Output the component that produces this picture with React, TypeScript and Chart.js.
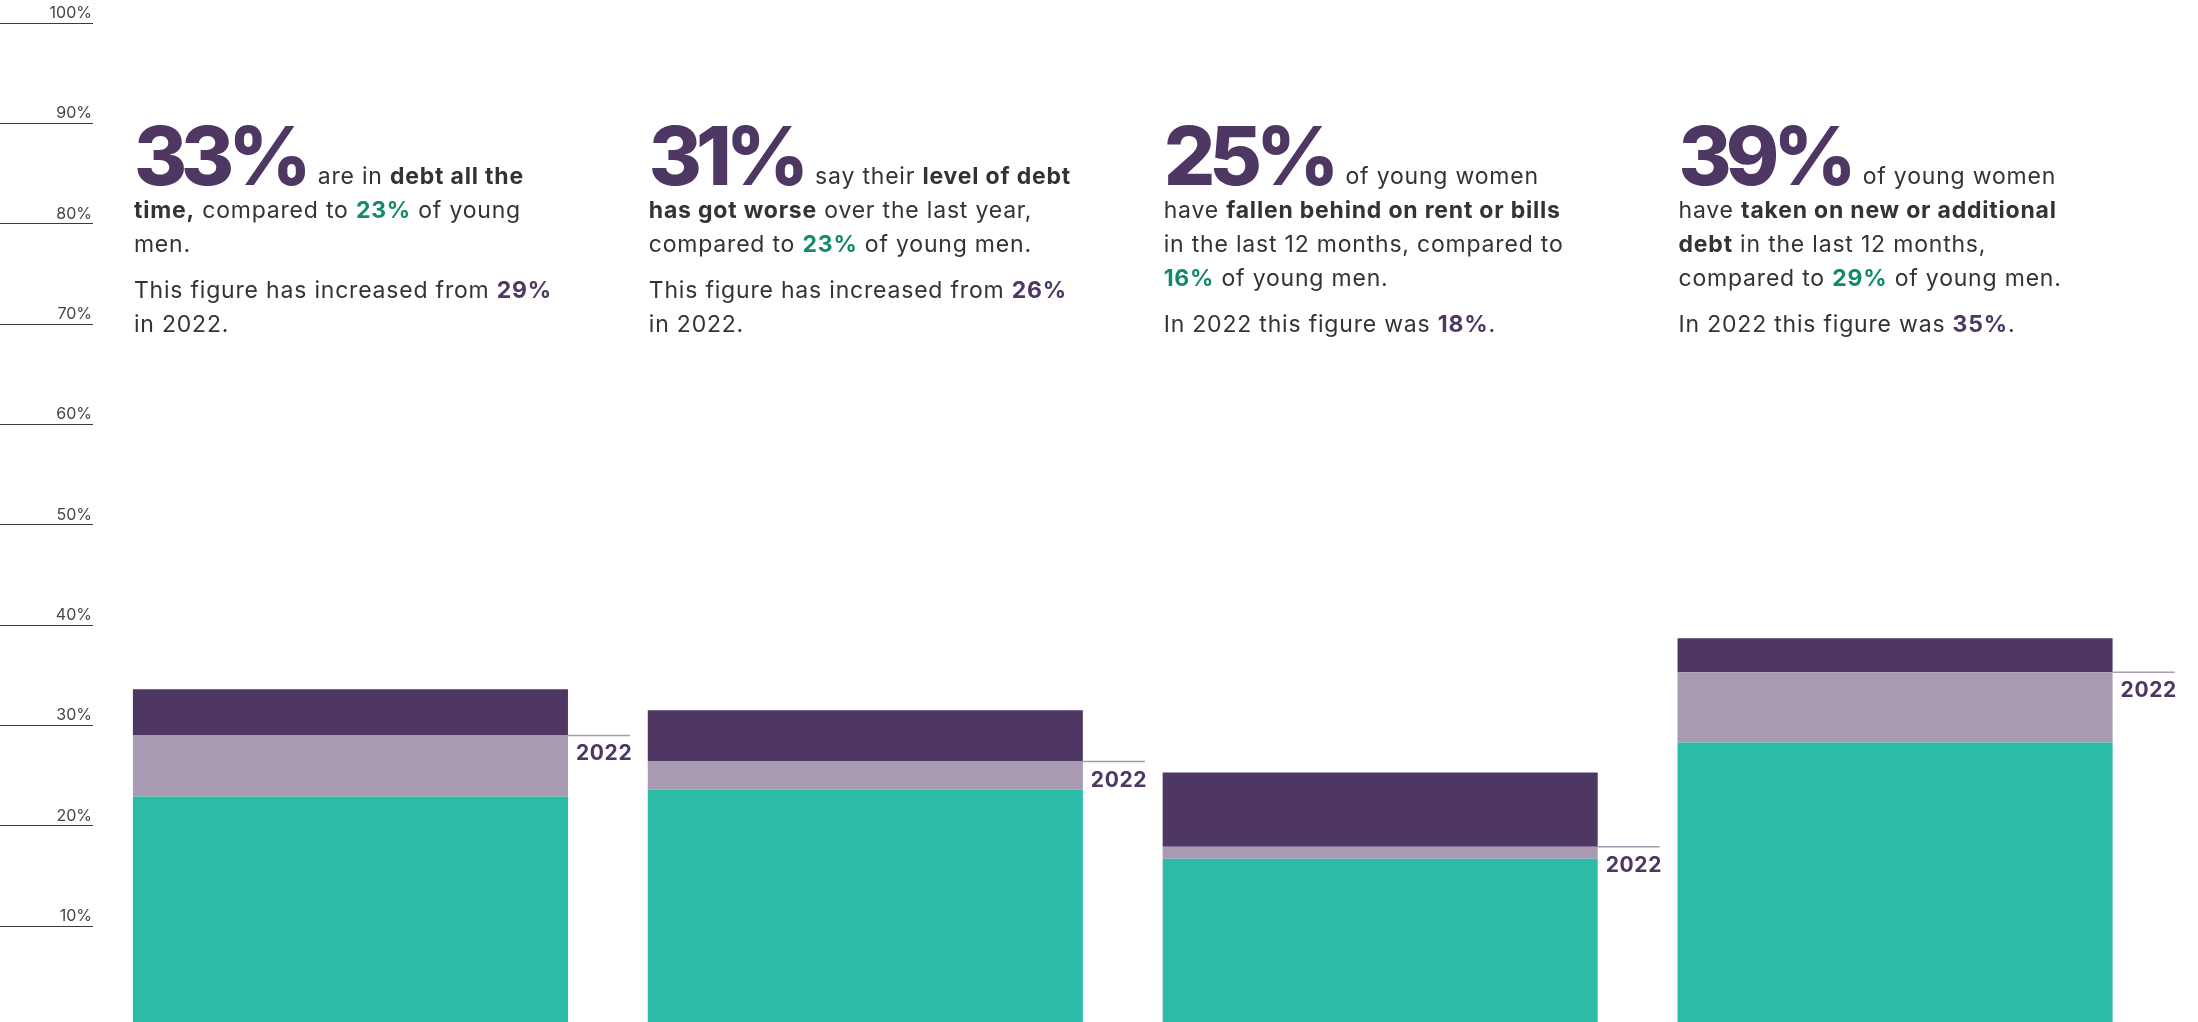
import React, { useEffect, useRef } from 'react';
import { Chart, registerables } from 'chart.js';

Chart.register(...registerables);

// ---- Data ----
const categories = ['Debt all the time', 'Debt got worse', 'Behind on rent or bills', 'New or additional debt'];
const youngMen = [22.9, 23.6, 16.7, 28.3];
const youngWomen2022 = [29.0, 26.4, 17.9, 35.3];
const youngWomen2023 = [33.6, 31.5, 25.3, 38.7];
const headlines = ['33%', '31%', '25%', '39%'];
const yearLabel = '2022';
const yTickValues = [0, 10, 20, 30, 40, 50, 60, 70, 80, 90, 100];

type Seg = [string, 'n' | 'b' | 't' | 'p'];

const block1Main: Seg[][] = [
  [['are in ', 'n'], ['debt all the', 'b']],
  [['time,', 'b'], [' compared to ', 'n'], ['23%', 't'], [' of young', 'n']],
  [['men.', 'n']],
];
const block1Note: Seg[][] = [
  [['This figure has increased from ', 'n'], ['29%', 'p']],
  [['in 2022.', 'n']],
];
const block2Main: Seg[][] = [
  [['say their ', 'n'], ['level of debt', 'b']],
  [['has got worse', 'b'], [' over the last year,', 'n']],
  [['compared to ', 'n'], ['23%', 't'], [' of young men.', 'n']],
];
const block2Note: Seg[][] = [
  [['This figure has increased from ', 'n'], ['26%', 'p']],
  [['in 2022.', 'n']],
];
const block3Main: Seg[][] = [
  [['of young women', 'n']],
  [['have ', 'n'], ['fallen behind on rent or bills', 'b']],
  [['in the last 12 months, compared to', 'n']],
  [['16%', 't'], [' of young men.', 'n']],
];
const block3Note: Seg[][] = [
  [['In 2022 this figure was ', 'n'], ['18%', 'p'], ['.', 'n']],
];
const block4Main: Seg[][] = [
  [['of young women', 'n']],
  [['have ', 'n'], ['taken on new or additional', 'b']],
  [['debt', 'b'], [' in the last 12 months,', 'n']],
  [['compared to ', 'n'], ['29%', 't'], [' of young men.', 'n']],
];
const block4Note: Seg[][] = [
  [['In 2022 this figure was ', 'n'], ['35%', 'p'], ['.', 'n']],
];
const blockMains = [block1Main, block2Main, block3Main, block4Main];
const blockNotes = [block1Note, block2Note, block3Note, block4Note];

// ---- Styles ----
const TEAL = '#2bbba7';
const LILAC = '#a89ab0';
const PURPLE = '#4e3763';
const TEXT = '#333333';
const TEAL_TEXT = '#15896f';
const FONT = 'Inter, "Noto Sans", sans-serif';

const segFont = (s: string) => (s === 'n' ? `400 23px ${FONT}` : `700 23px ${FONT}`);
const segColor = (s: string) => (s === 't' ? TEAL_TEXT : s === 'p' ? PURPLE : TEXT);

const textPlugin = {
  id: 'textBlocks',
  afterDraw(chart: any) {
    const ctx = chart.ctx as CanvasRenderingContext2D;
    const meta = chart.getDatasetMeta(0);
    const yScale = chart.scales.y;
    ctx.save();
    meta.data.forEach((bar: any, i: number) => {
      const left = bar.x - bar.width / 2 + 1;
      const right = bar.x + bar.width / 2;
      // 2022 marker
      const y22 = yScale.getPixelForValue(youngWomen2022[i]);
      ctx.strokeStyle = LILAC;
      ctx.lineWidth = 1.5;
      ctx.beginPath();
      ctx.moveTo(right, y22);
      ctx.lineTo(right + 62, y22);
      ctx.stroke();
      ctx.fillStyle = PURPLE;
      ctx.font = `700 21px ${FONT}`;
      (ctx as any).letterSpacing = '0.6px';
      ctx.textAlign = 'left';
      ctx.textBaseline = 'alphabetic';
      ctx.fillText(yearLabel, right + 8, y22 + 25);

      // headline number
      ctx.font = `800 81px ${FONT}`;
      (ctx as any).letterSpacing = '-6px';
      ctx.fillStyle = PURPLE;
      ctx.fillText(headlines[i], left, 185);
      const hw = ctx.measureText(headlines[i]).width;
      (ctx as any).letterSpacing = '0.8px';

      const drawLines = (lines: Seg[][], startY: number, firstX: number) => {
        let yy = startY;
        lines.forEach((line, li) => {
          let xx = li === 0 ? firstX : left;
          line.forEach(([txt, st]) => {
            ctx.font = segFont(st);
            ctx.fillStyle = segColor(st);
            ctx.fillText(txt, xx, yy);
            xx += ctx.measureText(txt).width;
          });
          yy += 34;
        });
        return yy - 34;
      };
      const last = drawLines(blockMains[i], 184, left + hw + 12);
      drawLines(blockNotes[i], last + 46, left);
      (ctx as any).letterSpacing = '0px';
    });
    ctx.restore();
  },
};

export default function App() {
  const ref = useRef<HTMLCanvasElement | null>(null);
  useEffect(() => {
    if (!ref.current) return;
    const chart = new Chart(ref.current, {
      type: 'bar',
      data: {
        labels: categories,
        datasets: [
          { label: 'Young men', data: youngMen, backgroundColor: TEAL },
          { label: 'Young women 2022', data: youngWomen2022.map((v, i) => v - youngMen[i]), backgroundColor: LILAC },
          { label: 'Young women 2023', data: youngWomen2023.map((v, i) => v - youngWomen2022[i]), backgroundColor: PURPLE },
        ],
      },
      options: {
        animation: false,
        responsive: false,
        devicePixelRatio: 1,
        layout: { padding: { left: 0, right: 45.5, top: 23.3, bottom: 13.7 } },
        datasets: { bar: { barPercentage: 1, categoryPercentage: 0.845, borderWidth: 0 } },
        plugins: { legend: { display: false }, tooltip: { enabled: false } },
        scales: {
          x: { stacked: true, display: false },
          y: {
            stacked: true,
            min: 0,
            max: 100,
            afterFit: (scale: any) => {
              scale.width = 93;
            },
            afterBuildTicks: (scale: any) => {
              scale.ticks = yTickValues.map((v) => ({ value: v }));
            },
            border: { display: false },
            grid: {
              drawOnChartArea: false,
              drawTicks: true,
              tickLength: 93,
              color: '#3a3a3a',
              lineWidth: 1,
            },
            ticks: {
              padding: -92,
              labelOffset: -10,
              color: '#444444',
              font: { family: FONT, size: 16 },
              callback: (v: any) => (v === 0 ? null : `${v}%`),
            },
          },
        },
      },
      plugins: [textPlugin],
    });
    return () => chart.destroy();
  }, []);
  return (
    <div style={{ position: 'fixed', left: 0, top: 0, width: 2198, height: 1022, overflow: 'hidden', background: '#fff' }}>
      <canvas ref={ref} width={2198} height={1040} style={{ display: 'block', width: 2198, height: 1040 }} />
    </div>
  );
}
